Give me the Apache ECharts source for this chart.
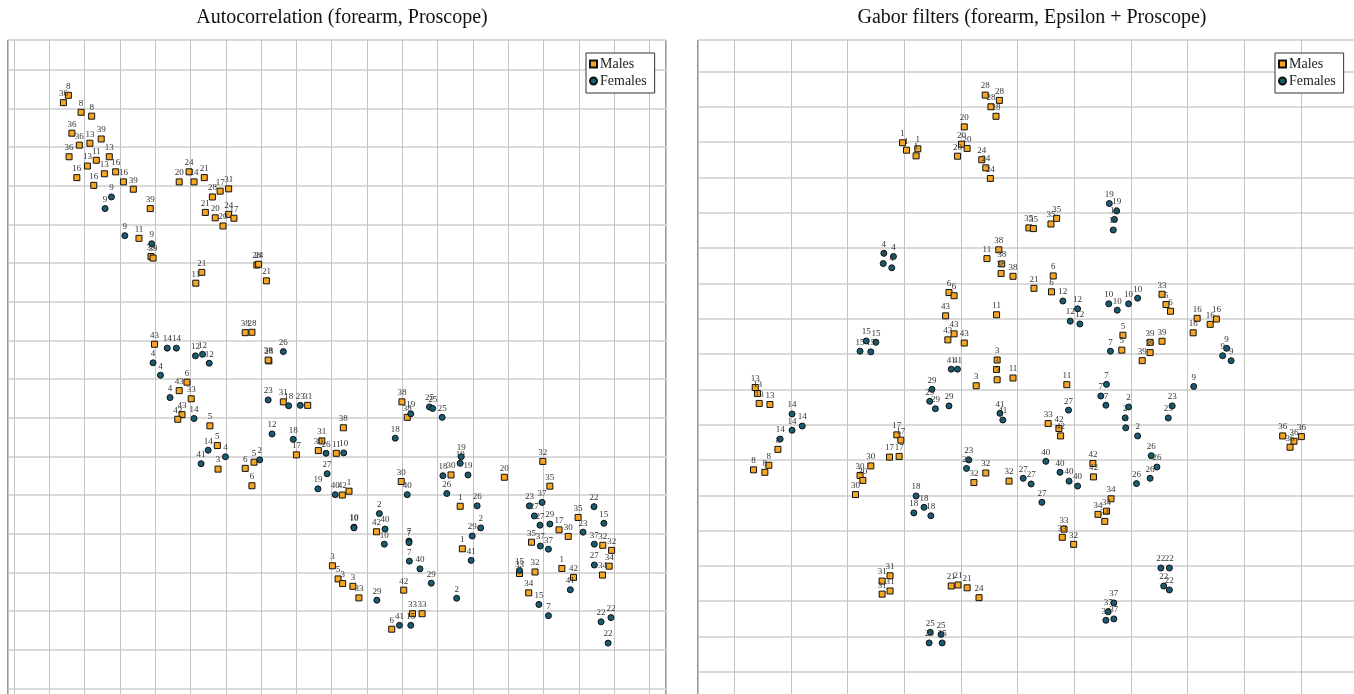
<!DOCTYPE html>
<html>
<head>
<meta charset="utf-8">
<title>Autocorrelation vs Gabor filters</title>
<script src="https://cdn.jsdelivr.net/npm/echarts@6/dist/echarts.min.js"></script>
<style>
  html, body { margin: 0; padding: 0; background: #fff; }
  #chart { width: 1354px; height: 694px; }
</style>
</head>
<body>
<div id="chart"></div>
<script>
// [x, y, subject] in grid units
const autoMales = [
  [1.54, 15.34, 8], [1.40, 15.15, 36], [1.90, 14.90, 8], [2.20, 14.80, 8], [1.64, 14.36, 36],
  [1.85, 14.05, 36], [2.15, 14.10, 13], [2.47, 14.21, 39], [1.56, 13.75, 36], [2.08, 13.51, 13],
  [2.33, 13.66, 11], [2.70, 13.75, 13], [1.78, 13.21, 16], [2.56, 13.31, 13], [2.88, 13.36, 16],
  [2.26, 13.01, 16], [3.10, 13.10, 16], [3.38, 12.91, 39], [3.86, 12.41, 39], [3.54, 11.64, 11],
  [3.88, 11.17, 39], [3.94, 11.13, 39], [4.68, 13.10, 20], [4.96, 13.36, 24], [5.10, 13.10, 24],
  [5.39, 13.21, 21], [5.62, 12.71, 28], [5.84, 12.86, 17], [6.08, 12.92, 31], [5.42, 12.31, 21],
  [5.70, 12.17, 20], [6.08, 12.26, 24], [6.23, 12.16, 17], [5.92, 11.96, 20], [5.32, 10.76, 21],
  [5.15, 10.48, 11], [6.88, 10.95, 28], [6.93, 10.97, 24], [7.15, 10.54, 21], [6.55, 9.20, 38],
  [6.74, 9.21, 28], [3.98, 8.90, 43], [7.22, 8.47, 28], [7.20, 8.49, 38], [4.90, 7.92, 6],
  [4.68, 7.70, 43], [5.02, 7.49, 33], [4.76, 7.08, 43], [4.64, 6.96, 43], [5.55, 6.79, 5],
  [5.76, 6.28, 5], [5.78, 5.67, 3], [6.55, 5.69, 6], [6.80, 5.85, 5], [6.74, 5.24, 6],
  [7.63, 7.41, 31], [8.32, 7.32, 31], [8.00, 6.04, 17], [8.72, 6.40, 31], [8.62, 6.15, 30],
  [9.13, 6.08, 11], [9.02, 3.17, 3], [9.18, 2.83, 5], [9.31, 2.71, 3], [9.60, 2.64, 3],
  [9.77, 2.34, 33], [9.33, 6.74, 38], [10.99, 7.41, 38], [11.14, 7.01, 38], [9.30, 5.00, 42],
  [9.49, 5.10, 1], [12.38, 5.52, 30], [12.64, 4.71, 1], [13.89, 5.46, 20], [14.98, 5.87, 32],
  [15.18, 5.23, 35], [10.97, 5.35, 30], [10.27, 4.05, 42], [11.04, 2.54, 42], [11.29, 1.93, 33],
  [11.56, 1.93, 33], [10.70, 1.53, 6], [12.70, 3.61, 1], [15.44, 4.10, 17], [15.70, 3.93, 30],
  [15.98, 4.42, 35], [14.66, 3.78, 35], [16.68, 3.70, 32], [16.93, 3.57, 32], [16.86, 3.16, 34],
  [16.67, 2.93, 34], [14.32, 2.97, 33], [14.76, 3.01, 32], [15.52, 3.10, 1], [15.85, 2.87, 42],
  [14.58, 2.47, 34]
];
const autoFemales = [
  [2.76, 12.71, 9], [2.58, 12.41, 9], [3.14, 11.71, 9], [3.90, 11.50, 9], [4.34, 8.80, 14],
  [4.60, 8.80, 14], [5.14, 8.60, 12], [5.34, 8.64, 12], [5.53, 8.41, 12], [7.63, 8.71, 26],
  [3.94, 8.42, 4], [4.15, 8.10, 4], [4.42, 7.52, 4], [5.10, 6.98, 14], [5.50, 6.16, 14],
  [5.99, 5.99, 4], [5.30, 5.81, 41], [6.96, 5.91, 2], [7.20, 7.46, 23], [7.78, 7.31, 18],
  [8.11, 7.32, 23], [7.31, 6.58, 12], [7.91, 6.44, 18], [8.84, 6.08, 26], [8.87, 5.55, 27],
  [8.61, 5.16, 19], [9.10, 5.01, 40], [9.34, 6.09, 10], [11.24, 7.10, 19], [11.77, 7.28, 25],
  [11.86, 7.24, 25], [12.13, 7.01, 25], [10.80, 6.47, 18], [12.67, 5.99, 19], [12.64, 5.82, 19],
  [12.15, 5.50, 18], [12.86, 5.52, 19], [12.26, 5.04, 26], [13.12, 4.72, 26], [11.14, 5.01, 40],
  [10.35, 4.52, 2], [10.51, 4.12, 40], [10.49, 3.73, 10], [9.63, 4.17, 10], [9.63, 4.15, 10],
  [11.19, 3.81, 7], [11.19, 3.77, 7], [11.20, 3.29, 7], [11.50, 3.09, 40], [11.82, 2.72, 29],
  [10.28, 2.28, 29], [10.92, 1.63, 41], [11.24, 1.63, 15], [12.54, 2.33, 2], [12.98, 3.94, 29],
  [13.22, 4.15, 2], [12.95, 3.31, 41], [14.60, 4.72, 23], [14.96, 4.81, 37], [14.74, 4.46, 27],
  [14.90, 4.22, 27], [15.18, 4.25, 29], [16.12, 4.04, 23], [16.43, 4.70, 22], [16.71, 4.27, 15],
  [14.91, 3.68, 37], [15.14, 3.60, 37], [16.44, 3.73, 37], [16.44, 3.19, 27], [14.32, 3.05, 15],
  [15.76, 2.55, 41], [14.87, 2.17, 15], [15.14, 1.88, 7], [16.63, 1.72, 22], [16.91, 1.83, 22],
  [16.83, 1.17, 22]
];
const gaborMales = [
  [4.43, 16.33, 28], [4.68, 16.18, 28], [4.53, 16.00, 28], [4.62, 15.73, 28], [4.06, 15.43, 20],
  [2.97, 14.98, 1], [3.04, 14.77, 1], [3.24, 14.81, 1], [3.21, 14.61, 1], [4.01, 14.94, 20],
  [4.11, 14.82, 20], [3.94, 14.60, 20], [4.37, 14.50, 24], [4.44, 14.27, 24], [4.52, 13.97, 24],
  [5.20, 12.57, 35], [5.28, 12.55, 35], [5.59, 12.68, 35], [5.69, 12.84, 35], [4.67, 11.95, 38],
  [4.46, 11.70, 11], [4.72, 11.55, 38], [4.71, 11.28, 38], [4.92, 11.20, 38], [3.79, 10.74, 6],
  [3.88, 10.65, 6], [3.73, 10.08, 43], [4.63, 10.11, 11], [3.88, 9.57, 43], [3.77, 9.40, 43],
  [4.06, 9.31, 43], [4.64, 8.83, 3], [4.63, 8.56, 3], [4.64, 8.27, 3], [4.27, 8.10, 3],
  [4.92, 8.32, 11], [5.29, 10.86, 21], [5.63, 11.21, 6], [5.60, 10.76, 6], [7.55, 10.69, 33],
  [7.62, 10.40, 5], [7.70, 10.21, 6], [8.17, 10.01, 16], [8.40, 9.84, 16], [8.51, 9.99, 16],
  [8.10, 9.60, 16], [6.86, 9.53, 5], [6.84, 9.11, 5], [7.34, 9.33, 39], [7.55, 9.36, 39],
  [7.34, 9.04, 39], [7.20, 8.81, 39], [0.37, 8.05, 13], [0.41, 7.88, 13], [0.44, 7.60, 13],
  [0.63, 7.57, 13], [0.77, 6.30, 8], [0.34, 5.72, 8], [0.54, 5.65, 8], [0.61, 5.85, 8],
  [2.87, 6.71, 17], [2.94, 6.56, 17], [2.74, 6.08, 17], [2.91, 6.10, 17], [2.41, 5.83, 30],
  [2.22, 5.56, 30], [2.27, 5.42, 30], [2.14, 5.02, 30], [4.44, 5.63, 32], [4.23, 5.36, 32],
  [4.85, 5.40, 32], [2.75, 2.72, 31], [2.61, 2.57, 31], [2.75, 2.29, 31], [2.61, 2.20, 31],
  [3.83, 2.43, 21], [3.95, 2.46, 21], [4.11, 2.38, 21], [4.32, 2.10, 24], [5.87, 8.13, 11],
  [5.54, 7.03, 33], [5.73, 6.89, 42], [5.76, 6.68, 42], [6.33, 5.90, 42], [6.34, 5.52, 42],
  [6.65, 4.90, 34], [6.42, 4.46, 34], [6.57, 4.55, 34], [6.54, 4.26, 34], [5.82, 4.04, 33],
  [5.79, 3.81, 33], [5.99, 3.61, 32], [9.68, 6.68, 36], [9.88, 6.53, 36], [9.81, 6.36, 36],
  [10.01, 6.66, 36]
];
const gaborFemales = [
  [2.64, 11.85, 4], [2.81, 11.76, 4], [2.63, 11.56, 4], [2.78, 11.44, 4], [2.33, 9.37, 15],
  [2.50, 9.33, 15], [2.22, 9.08, 15], [2.41, 9.06, 15], [6.62, 13.26, 19], [6.75, 13.05, 19],
  [6.71, 12.81, 19], [6.69, 12.51, 19], [5.80, 10.50, 12], [6.06, 10.28, 12], [5.93, 9.93, 12],
  [6.10, 9.85, 12], [6.61, 10.42, 10], [6.76, 10.24, 10], [6.96, 10.42, 10], [7.12, 10.58, 10],
  [6.64, 9.08, 7], [8.69, 9.16, 9], [8.62, 8.95, 9], [8.77, 8.81, 9], [8.11, 8.08, 9],
  [3.83, 8.57, 41], [3.94, 8.57, 41], [3.49, 8.00, 29], [3.45, 7.66, 29], [3.55, 7.45, 29],
  [3.79, 7.53, 29], [4.69, 7.32, 41], [4.74, 7.13, 41], [1.02, 7.30, 14], [1.02, 6.84, 14],
  [1.20, 6.96, 14], [0.81, 6.59, 14], [4.14, 6.00, 23], [4.10, 5.76, 23], [3.21, 4.98, 18],
  [3.35, 4.66, 18], [3.17, 4.50, 18], [3.47, 4.42, 18], [3.46, 1.12, 25], [3.65, 1.06, 25],
  [3.44, 0.82, 25], [3.67, 0.82, 25], [6.57, 8.14, 7], [6.47, 7.81, 7], [6.56, 7.55, 7],
  [5.90, 7.41, 27], [6.96, 7.50, 2], [6.90, 7.19, 2], [6.91, 6.91, 2], [7.12, 6.68, 2],
  [7.73, 7.53, 23], [7.66, 7.19, 23], [5.50, 5.96, 40], [5.75, 5.65, 40], [5.91, 5.40, 40],
  [6.06, 5.26, 40], [5.10, 5.48, 27], [5.24, 5.32, 27], [5.43, 4.80, 27], [7.36, 6.12, 26],
  [7.46, 5.80, 26], [7.34, 5.48, 26], [7.10, 5.33, 26], [7.53, 2.94, 22], [7.68, 2.94, 22],
  [7.58, 2.43, 22], [7.68, 2.32, 22], [6.70, 1.95, 37], [6.60, 1.70, 37], [6.56, 1.46, 37],
  [6.70, 1.50, 37]
];

const titles = ["Autocorrelation (forearm, Proscope)", "Gabor filters (forearm, Epsilon + Proscope)"];
const groups = ["Males", "Females"];
// axis extents in grid units (one unit = one grid cell)
const xExtents = [[-0.17, 18.47], [-0.64, 11.08]];
const yExtents = [[-0.56, 16.77], [-1.08, 17.89]];

const font = "'Liberation Serif', 'DejaVu Serif', serif";
const maleColor = "#f5a623";
const femaleColor = "#175c73";

const chart = echarts.init(document.getElementById("chart"));

function axis(extent, gridIndex, dir) {
  return {
    type: "value", gridIndex, min: extent[0], max: extent[1],
    splitNumber: Math.round(extent[1] - extent[0]), minInterval: 1, maxInterval: 1,
    axisLine: { show: false }, axisTick: { show: false }, axisLabel: { show: false },
    splitLine: { show: true, lineStyle: dir === "x" ? { color: "#c4c4c4", width: 1 } : { color: "#dadada", width: 2 } }
  };
}

function series(name, data, panel, male) {
  return {
    name, type: "scatter", xAxisIndex: panel, yAxisIndex: panel, data,
    symbol: male ? "rect" : "circle", symbolSize: 6,
    itemStyle: { color: male ? maleColor : femaleColor, borderColor: "#111", borderWidth: 1, opacity: 1 },
    label: { show: true, position: "top", distance: 1, formatter: (p) => String(p.value[2]), fontSize: 9, fontFamily: font, color: "#333" },
    emphasis: { disabled: true }
  };
}

function legend(left) {
  return {
    data: groups, orient: "vertical", left, top: 53,
    backgroundColor: "#fff", borderColor: "#333", borderWidth: 1,
    padding: [4, 8, 5, 3], itemGap: 3, itemWidth: 7, itemHeight: 7,
    textStyle: { fontFamily: font, fontSize: 14, color: "#222", padding: [0, 0, 0, -2] },
    selectedMode: false
  };
}

chart.setOption({
  animation: false,
  title: [
    { text: titles[0], left: 337, top: 3, textAlign: "center", textStyle: { fontFamily: font, fontSize: 20, fontWeight: "normal", color: "#111" } },
    { text: titles[1], left: 1027, top: 3, textAlign: "center", textStyle: { fontFamily: font, fontSize: 20, fontWeight: "normal", color: "#111" } }
  ],
  legend: [legend(586), legend(1275)],
  grid: [
    { left: 8, top: 40, width: 658, height: 670, outerBoundsMode: "none", containLabel: false, show: true, borderColor: "#333", borderWidth: 1, backgroundColor: "#fff" },
    { left: 698, top: 40, width: 664, height: 670, outerBoundsMode: "none", containLabel: false, show: true, borderColor: "#333", borderWidth: 1, backgroundColor: "#fff" }
  ],
  xAxis: [axis(xExtents[0], 0, "x"), axis(xExtents[1], 1, "x")],
  yAxis: [axis(yExtents[0], 0, "y"), axis(yExtents[1], 1, "y")],
  series: [
    series(groups[0], autoMales, 0, true),
    series(groups[1], autoFemales, 0, false),
    series(groups[0], gaborMales, 1, true),
    series(groups[1], gaborFemales, 1, false)
  ]
});
</script>
</body>
</html>
